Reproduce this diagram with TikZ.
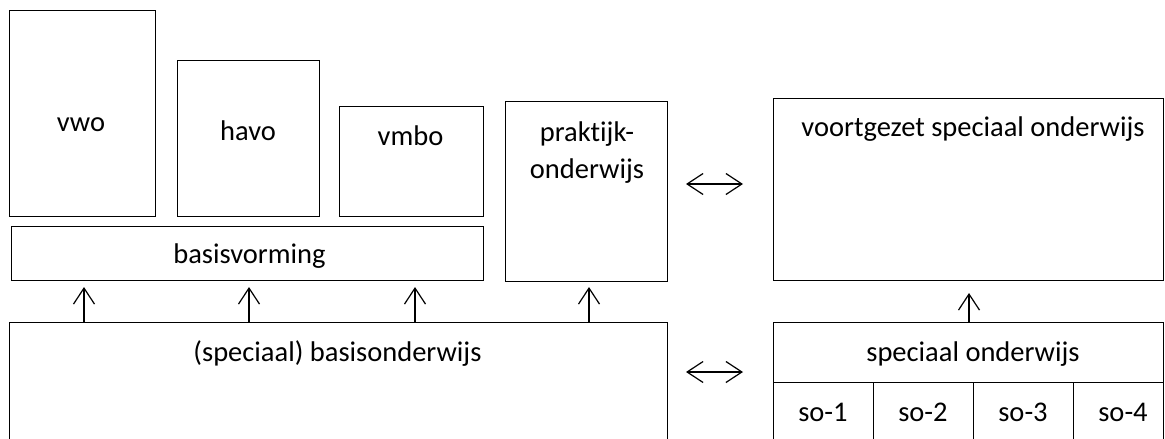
\documentclass[tikz,border=0pt]{standalone}
\usepackage{fontspec}
\setmainfont[Ligatures=NoCommon]{Carlito}
\usetikzlibrary{arrows.meta}
\begin{document}
\begin{tikzpicture}[x=1pt,y=-1pt,
  box/.style={draw=black,line width=0.9pt},
  lbl/.style={inner sep=0pt,anchor=base,font=\fontsize{28.5}{34}\selectfont},
  barb/.tip={Straight Barb[length=16pt,width=21pt,line width=1.2pt]},
  link/.style={line width=1.2pt,-barb},
  both/.style={line width=1.2pt,barb-barb}]
\useasboundingbox (0,0) rectangle (1165,439);
\clip (0,0) rectangle (1165,439);
% secondary school types
\draw[box] (9,10) rectangle (155,216);
\draw[box] (177,60) rectangle (319,216);
\draw[box] (339,106) rectangle (483,216);
% common core and practical track
\draw[box] (11,226) rectangle (483,280);
\draw[box] (505,101) rectangle (667,281);
% special secondary education
\draw[box] (773,98) rectangle (1163.5,280);
% primary education (runs on below the page)
\draw[box] (9,445) -- (9,322) -- (667,322) -- (667,445);
% special primary education with its four clusters
\draw[box] (773,445) -- (773,322) -- (1163.5,322) -- (1163.5,445);
\draw[box] (773,382) -- (1163.5,382);
\draw[box] (873,382) -- (873,445) (973,382) -- (973,445) (1073,382) -- (1073,445);

% labels
\node[lbl] (tvwo) at (81,131.5) {vwo};
\node[lbl] (thavo) at (248,140) {havo};
\node[lbl] (tvmbo) at (410.5,145) {vmbo};
\node[lbl] (tpro1) at (587,141.5) {praktijk-};
\node[lbl] (tpro2) at (587,178.3) {onderwijs};
\node[lbl] (tbv) at (249.5,263) {basisvorming};
\node[lbl] (tvso) at (973,136.7) {voortgezet speciaal onderwijs};
\node[lbl] (tbo) at (337.5,361.7) {(speciaal) basisonderwijs};
\node[lbl] (tso) at (973,361.7) {speciaal onderwijs};
\node[lbl] (so1) at (823,421.7) {so-1};
\node[lbl] (so2) at (923,421.7) {so-2};
\node[lbl] (so3) at (1023,421.7) {so-3};
\node[lbl] (so4) at (1123,421.7) {so-4};

% transitions between the school types
\coordinate (boTop) at (0,322);
\coordinate (tipRow) at (0,287);
\coordinate (soTop) at (0,322);
\coordinate (vsoTip) at (0,293);
\foreach \x in {84,249,415,589}
  \draw[link] (boTop -| \x,0) -- (tipRow -| \x,0);
\draw[link] (soTop -| 969,0) -- (vsoTip -| 969,0);
\coordinate (lu) at (686,184);
\coordinate (ru) at (743,184);
\coordinate (ll) at (686,372);
\coordinate (rl) at (743,372);
\draw[both] (lu) -- (ru);
\draw[both] (ll) -- (rl);
\end{tikzpicture}
\end{document}
